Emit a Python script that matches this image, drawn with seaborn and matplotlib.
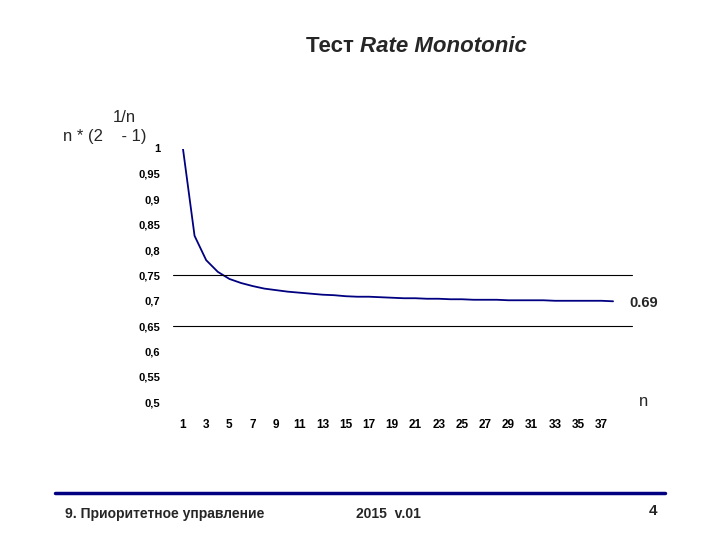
import matplotlib
matplotlib.use("Agg")
import matplotlib.pyplot as plt
import seaborn as sns
import pandas as pd

sns.set_theme(style="white")
plt.rcParams['font.family'] = ['Liberation Sans', 'DejaVu Sans']

# n * (2^(1/n) - 1)
n_values = list(range(1, 39))
bound = [1.000, 0.828, 0.780, 0.757, 0.743, 0.735, 0.729, 0.724, 0.721, 0.718,
         0.716, 0.714, 0.712, 0.711, 0.709, 0.708, 0.708, 0.707, 0.706, 0.705,
         0.705, 0.704, 0.704, 0.703, 0.703, 0.702, 0.702, 0.702, 0.701, 0.701,
         0.701, 0.701, 0.700, 0.700, 0.700, 0.700, 0.700, 0.699]
y_ticks = [0.5, 0.55, 0.6, 0.65, 0.7, 0.75, 0.8, 0.85, 0.9, 0.95, 1.0]
y_labels = ["0,5", "0,55", "0,6", "0,65", "0,7", "0,75", "0,8", "0,85", "0,9", "0,95", "1"]
x_ticks = list(range(1, 38, 2))
grid_levels = [0.75, 0.65]

df = pd.DataFrame({"n": n_values, "u": bound})

fig = plt.figure(figsize=(7.2, 5.4), dpi=100)
ax = fig.add_axes([0.246, 0.255, 0.62, 0.47])
sns.lineplot(data=df, x="n", y="u", ax=ax, color="#000080", linewidth=1.3)
for lv in grid_levels:
    ax.axhline(lv, color="black", linewidth=0.8, xmin=-0.01, xmax=1.02, clip_on=False)
ax.set_xlim(0.5, 38.9)
ax.set_ylim(0.5, 1.0)
ax.set_yticks(y_ticks)
ax.set_yticklabels(y_labels, fontsize=8, fontweight="bold")
ax.set_xticks(x_ticks)
ax.set_xticklabels([str(x) for x in x_ticks], fontsize=8.5, fontweight="bold")
ax.tick_params(axis="both", length=0, pad=12, colors="black")
ax.set_xlabel("")
ax.set_ylabel("")
for s in ax.spines.values():
    s.set_visible(False)

ax.text(1.045, 0.39, "0.69", transform=ax.transAxes, fontsize=10.5, fontweight="bold", ha="center", va="center")
ax.text(1.045, 0.005, "n", transform=ax.transAxes, fontsize=12, ha="center", va="center")

fig.text(0.5, 0.913, "Тест ", fontsize=16, fontweight="bold", ha="right", va="center")
fig.text(0.5, 0.913, "Rate Monotonic", fontsize=16, fontweight="bold", style="italic", ha="left", va="center")
fig.text(0.088, 0.748, "n * (2    - 1)", fontsize=12, ha="left", va="center")
fig.text(0.157, 0.782, "1/n", fontsize=12, ha="left", va="center")

fig.add_artist(plt.Line2D([0.076, 0.924], [0.087, 0.087], color="#000080", linewidth=2.5))
fig.text(0.09, 0.048, "9. Приоритетное управление", fontsize=10, fontweight="bold", ha="left", va="center")
fig.text(0.495, 0.048, "2015  v.01", fontsize=10, fontweight="bold", ha="left", va="center")
fig.text(0.907, 0.054, "4", fontsize=11, fontweight="bold", ha="center", va="center")

fig.savefig("out.png", dpi=100)
